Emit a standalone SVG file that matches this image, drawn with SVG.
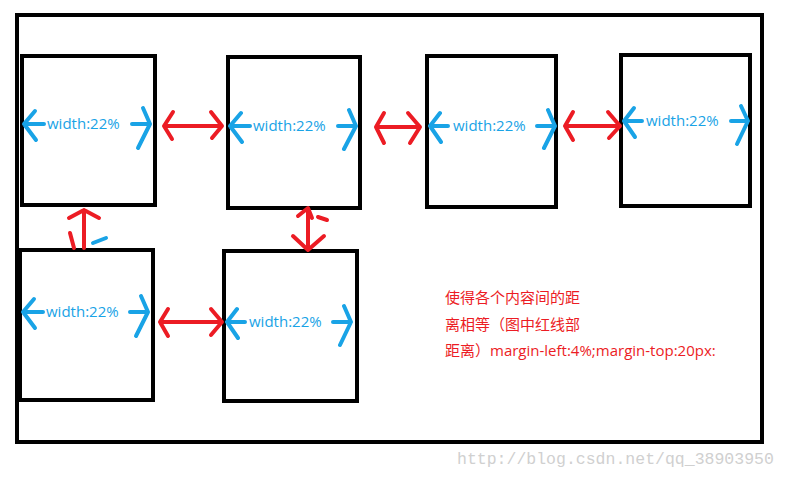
<svg xmlns="http://www.w3.org/2000/svg" width="788" height="478" viewBox="0 0 788 478">
<style>
.box{fill:none;stroke:#000;stroke-width:4}
.b{fill:none;stroke:#19a3e6;stroke-width:4;stroke-linecap:round;stroke-linejoin:round}
.r{fill:none;stroke:#ec1c24;stroke-width:4;stroke-linecap:round;stroke-linejoin:round}
.wt{font-family:"Open Sans","Liberation Sans",sans-serif;font-size:15px;fill:#19a3e6}
.note{font-family:"Liberation Sans","Noto Sans CJK SC",sans-serif;font-size:15px;fill:#ec1c24}
</style>
<rect width="788" height="478" fill="#fff"/>
<rect x="17" y="15" width="745" height="427" class="box"/>
<g id="box1"><rect x="22" y="56" width="133" height="149" class="box"/>
<path class="b" d="M24 124H44M35 111L24 124L36 140M132 124H150M143 108L150 124L138 148"/><text class="wt" x="47" y="129">width:22%</text></g>
<g id="box2"><rect x="228" y="57" width="132" height="151" class="box"/>
<path class="b" d="M230 126H250M241 113L230 126L242 142M338 126H356M349 110L356 126L344 149"/><text class="wt" x="253" y="131">width:22%</text></g>
<g id="box3"><rect x="427" y="56" width="129" height="151" class="box"/>
<path class="b" d="M430 126H448M440 113L430 126L441 142M537 126H555M548 110L555 126L544 148"/><text class="wt" x="453" y="131">width:22%</text></g>
<g id="box4"><rect x="621" y="55" width="129" height="151" class="box"/>
<path class="b" d="M624 121H642M634 108L624 121L635 137M731 121H748M741 106L748 121L737 144"/><text class="wt" x="646" y="126">width:22%</text></g>
<g id="box5"><rect x="20" y="250" width="133" height="150" class="box"/>
<path class="b" d="M23 312H43M34 299L23 312L35 328M130 312H148M141 296L148 312L136 336"/><text class="wt" x="46" y="317">width:22%</text></g>
<g id="box6"><rect x="224" y="251" width="133" height="150" class="box"/>
<path class="b" d="M227 322H245M237 309L227 322L238 338M333 322H351M344 306L351 322L340 345"/><text class="wt" x="249" y="327">width:22%</text></g>
<g id="connectors">
<path class="r" d="M165 126H222M173 112L164 126L172 139M211 112L222 126L212 138"/>
<path class="r" d="M376 127H420M384 113L376 127L384 143M408 113L420 127L410 143"/>
<path class="r" d="M565 126H620M573 112L565 126L573 140M608 112L620 126L609 138"/>
<path class="r" d="M160 322H222M168 309L160 322L168 336M211 309L222 322L211 335"/>
<path class="r" d="M84 210V248M69 218L84 210L99 218M70 233L74 248"/>
<path class="r" d="M308 210V250M298 216L308 208L312 218M318 217L327 220M293 236L308 250L324 236"/>
<path class="b" d="M93 243L106 238"/>
</g>
<g id="note">
<text class="note" x="445" y="303">使得各个内容间的距</text>
<text class="note" x="445" y="330">离相等（图中红线部</text>
<text class="note" x="445" y="356">距离）<tspan font-family="Open Sans,Liberation Sans,sans-serif">margin-left:4%;margin-top:20px:</tspan></text>
</g>
<text x="457" y="464" font-family="Liberation Mono,monospace" font-size="16.5" fill="#d0d0d0">http://blog.csdn.net/qq_38903950</text>
</svg>
